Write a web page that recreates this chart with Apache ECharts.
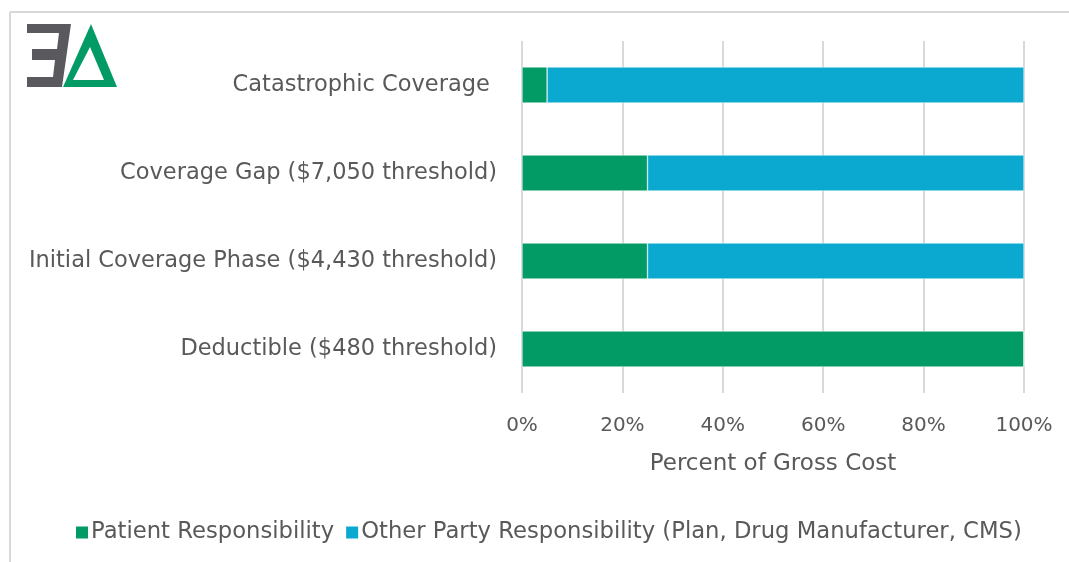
<!DOCTYPE html>
<html lang="en">
<head>
    <meta charset="UTF-8">
    <title>Part D cost sharing</title>
    <script src="https://cdn.jsdelivr.net/npm/echarts@6/dist/echarts.min.js"></script>
    <style>
        html, body { margin: 0; padding: 0; background: #ffffff; }
        #main { width: 1069px; height: 562px; }
    </style>
</head>
<body>
<div id="main"></div>
<script>
    // phases, bottom to top as drawn
    var phases = ['Deductible ($480 threshold)', 'Initial Coverage Phase ($4,430 threshold)', 'Coverage Gap ($7,050 threshold)', 'Catastrophic Coverage '];
    var patientShare = [100, 25, 25, 5];
    var otherShare = [0, 75, 75, 95];
    var seriesNames = ['Patient Responsibility', 'Other Party Responsibility (Plan, Drug Manufacturer, CMS)'];
    var xTicks = [0, 20, 40, 60, 80, 100];

    var font = 'DejaVu Sans';
    var grey = '#595959';

    var myChart = echarts.init(document.getElementById('main'));
    var option = {
        animation: false,
        color: ['#029b66', '#0ba8d0'],
        textStyle: { fontFamily: font },
        grid: { left: 522, right: 45, top: 41, bottom: 169 },
        legend: {
            left: 69, top: 516,
            itemWidth: 14, itemHeight: 14, itemGap: 10,
            icon: 'rect',
            textStyle: { color: grey, fontSize: 22.7, fontFamily: font, padding: [0, 0, 0, -3] },
            data: seriesNames
        },
        xAxis: {
            type: 'value',
            min: xTicks[0], max: xTicks[xTicks.length - 1], interval: 20,
            name: 'Percent of Gross Cost',
            nameLocation: 'middle',
            nameGap: 60,
            nameTextStyle: { color: grey, fontSize: 23, fontFamily: font },
            axisLine: { show: false },
            axisTick: { show: false },
            axisLabel: { color: grey, fontSize: 20, margin: 23, formatter: '{value}%' },
            splitLine: { lineStyle: { color: '#d9d9d9', width: 2 } }
        },
        yAxis: {
            type: 'category',
            data: phases,
            axisLine: { show: false },
            axisTick: { show: false },
            axisLabel: { color: grey, fontSize: 22.5, margin: 25 }
        },
        series: [
            {
                name: seriesNames[0], type: 'bar', stack: 'a',
                barCategoryGap: '59%',
                itemStyle: { borderColor: '#ffffff', borderWidth: 0.5 },
                data: patientShare
            },
            {
                name: seriesNames[1], type: 'bar', stack: 'a',
                itemStyle: { borderColor: '#ffffff', borderWidth: 0.5 },
                data: otherShare
            }
        ],
        graphic: [
            // frame
            { type: 'line', shape: { x1: 10, y1: 12, x2: 1069, y2: 12 }, style: { stroke: '#d9d9d9', lineWidth: 2 } },
            { type: 'line', shape: { x1: 10, y1: 12, x2: 10, y2: 562 }, style: { stroke: '#d9d9d9', lineWidth: 2 } },
            // logo
            { type: 'polygon', shape: { points: [[27,24],[71,24],[62,87],[27,87],[27,77],[53,77],[55,60],[32,60],[32,49],[57,49],[59,33],[27,33]] },
              style: { fill: '#5a5a5e' } },
            { type: 'polygon', shape: { points: [[91,24],[117,87],[63,87]] }, style: { fill: '#029b66' } },
            { type: 'polygon', shape: { points: [[90,47],[104,80],[73,80]] }, style: { fill: '#ffffff' } }
        ]
    };
    myChart.setOption(option);
</script>
</body>
</html>
